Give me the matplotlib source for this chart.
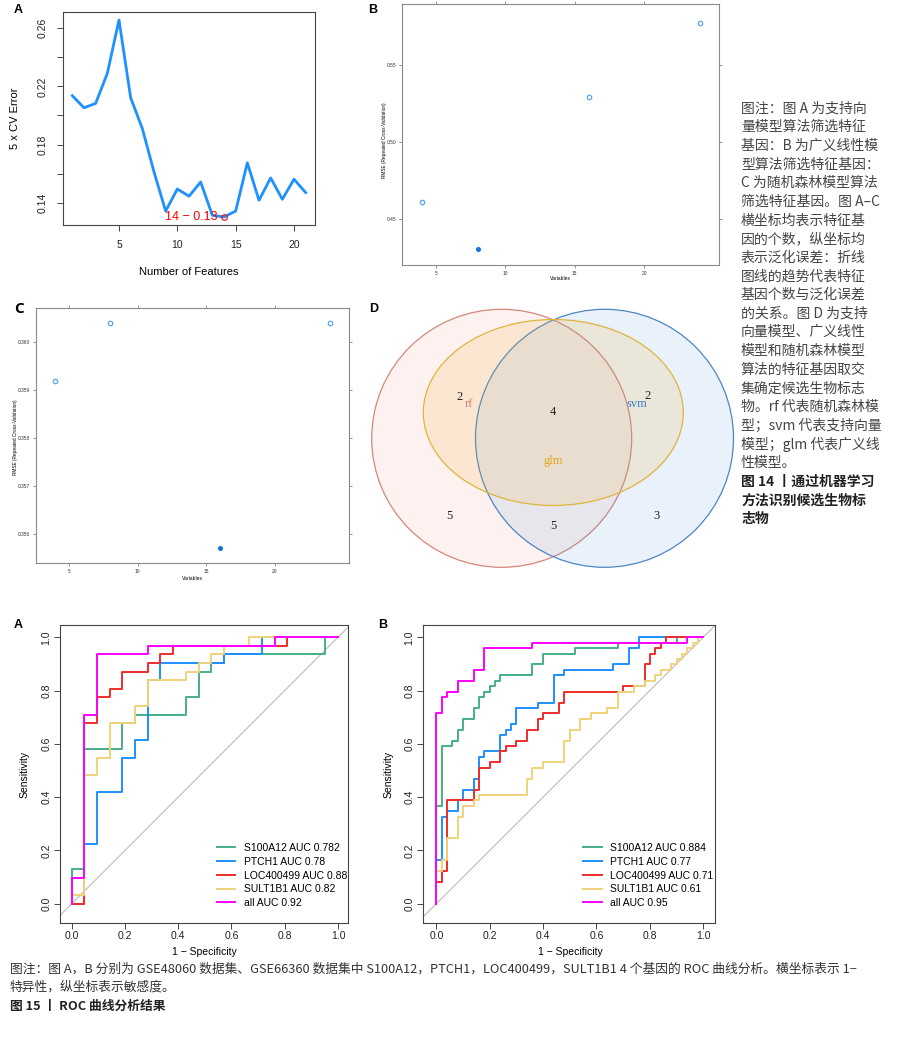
import numpy as np
import matplotlib.pyplot as plt
from matplotlib.patches import Ellipse
from matplotlib.colors import to_rgba

plt.rcParams['font.family'] = ['Liberation Sans', 'DejaVu Sans']
CJK = ['Noto Sans CJK SC', 'DejaVu Sans']

W, H = 905, 1037

# panel A: cross-validation error vs number of features (svm)
n_feat = list(range(1, 22))
cv_err = [0.2136, 0.2053, 0.2083, 0.2290, 0.2657, 0.2122, 0.1910, 0.1611,
          0.1342, 0.1494, 0.1444, 0.1542, 0.1313, 0.1301, 0.1342, 0.1674,
          0.1416, 0.1570, 0.1423, 0.1561, 0.1469]

# panels B and C: RMSE vs number of variables (glm, rf)
n_vars = [4, 8, 16, 24]
rmse_glm = [0.4613, 0.4303, 0.5293, 0.5775]
rmse_rf = [0.3592, 0.3604, 0.3557, 0.3604]

# panel D: venn counts
venn_sets = ['rf', 'svm', 'glm']
venn_counts = {'rf': 5, 'svm': 3, 'rf_glm': 2, 'svm_glm': 2,
               'all': 4, 'rf_svm': 5}

# ROC curves, steps given as (false positive count, true positive count)
roc_genes = ['S100A12', 'PTCH1', 'LOC400499', 'SULT1B1', 'all']
roc_colors = ['#45B085', '#1E90FF', '#EE2C2C', '#F0D27A', '#FF00FF']

auc_a = [0.782, 0.78, 0.88, 0.82, 0.92]
n_ctrl_a, n_case_a = 21, 31
fp_a = [[0, 0, 1, 4, 5, 9, 10, 11, 12, 20, 21],
        [0, 1, 2, 4, 5, 6, 7, 12, 15, 21],
        [0, 1, 2, 3, 4, 6, 7, 8, 17, 21],
        [0, 0, 1, 2, 3, 5, 6, 9, 10, 11, 12, 14, 21],
        [0, 0, 1, 2, 6, 16, 21]]
tp_a = [[0, 4, 18, 21, 22, 24, 27, 28, 29, 31, 31],
        [0, 7, 13, 17, 19, 26, 28, 29, 31, 31],
        [0, 21, 24, 25, 27, 28, 29, 30, 31, 31],
        [0, 1, 15, 17, 21, 23, 26, 27, 28, 29, 30, 31, 31],
        [0, 3, 22, 29, 30, 31, 31]]

auc_b = [0.884, 0.77, 0.71, 0.61, 0.95]
n_ctrl_b, n_case_b = 50, 49
fp_b = [[0, 0, 1, 3, 4, 5, 7, 8, 9, 10, 11, 12, 18, 20, 26, 34, 45, 50],
        [0, 0, 1, 2, 4, 5, 7, 8, 9, 12, 13, 14, 15, 19, 22, 24, 33, 36, 38, 50],
        [0, 0, 1, 2, 7, 8, 10, 12, 13, 15, 17, 19, 20, 23, 24, 35, 39, 40,
         41, 42, 43, 50],
        [0, 0, 1, 2, 4, 5, 7, 8, 17, 18, 20, 24, 25, 27, 29, 32, 34, 37, 39,
         41, 42, 44, 45, 46, 47, 48, 49, 50],
        [0, 0, 1, 2, 4, 7, 9, 18, 47, 50]]
tp_b = [[0, 18, 29, 30, 32, 34, 36, 38, 39, 40, 41, 42, 44, 46, 47, 48, 49, 49],
        [0, 8, 16, 17, 19, 21, 23, 27, 28, 31, 32, 33, 36, 37, 42, 43, 44, 47, 49, 49],
        [0, 4, 6, 19, 21, 25, 26, 28, 29, 30, 32, 34, 35, 37, 39, 40, 44, 46,
         47, 48, 49, 49],
        [0, 6, 8, 12, 16, 18, 19, 20, 23, 25, 26, 30, 32, 34, 35, 36, 39, 40,
         41, 42, 43, 44, 45, 46, 47, 48, 49, 49],
        [0, 35, 38, 39, 41, 43, 47, 48, 49, 49]]

note14 = ['图注：图 A 为支持向', '量模型算法筛选特征', '基因：B 为广义线性模',
          '型算法筛选特征基因：', 'C 为随机森林模型算法', '筛选特征基因。图 A–C',
          '横坐标均表示特征基', '因的个数，纵坐标均', '表示泛化误差：折线',
          '图线的趋势代表特征', '基因个数与泛化误差', '的关系。图 D 为支持',
          '向量模型、广义线性', '模型和随机森林模型', '算法的特征基因取交',
          '集确定候选生物标志', '物。rf 代表随机森林模', '型；svm 代表支持向量',
          '模型；glm 代表广义线', '性模型。']
title14 = ['图 14 丨通过机器学习', '方法识别候选生物标', '志物']
note15 = ['图注：图 A，B 分别为 GSE48060 数据集、GSE66360 数据集中 S100A12，PTCH1，'
          'LOC400499，SULT1B1 4 个基因的 ROC 曲线分析。横坐标表示 1−',
          '特异性，纵坐标表示敏感度。']
title15 = '图 15 丨 ROC 曲线分析结果'


fig = plt.figure(figsize=(W / 100, H / 100), dpi=100)


def px_axes(x0, y0, x1, y1):
    return fig.add_axes([x0 / W, 1 - y1 / H, (x1 - x0) / W, (y1 - y0) / H])


def ftxt(x, y, s, **kw):
    kw.setdefault('ha', 'center')
    kw.setdefault('va', 'center')
    return fig.text(x / W, 1 - y / H, s, **kw)


def r_style(ax, size=7.5, pad=7):
    for sp in ax.spines.values():
        sp.set_color('#444444')
        sp.set_linewidth(0.8)
    ax.tick_params(direction='out', length=4, width=0.7, color='#444444',
                   labelsize=size, labelcolor='#222222', pad=pad)
    plt.setp(ax.get_yticklabels(), rotation=90, va='center')


# ---------------- panel A
ax = px_axes(63, 12, 315, 225)
ax.plot(n_feat, cv_err, color='#1E90FF', lw=2)
best = int(np.argmin(cv_err))
ax.plot(n_feat[best], cv_err[best], 'o', mfc='none', mec='red', ms=4, mew=0.8)
ax.annotate('%d − %.2f' % (n_feat[best], cv_err[best]), (n_feat[best], cv_err[best]),
            xytext=(-5, 0), textcoords='offset points', ha='right', va='center',
            color='red', fontsize=9)
ax.set_xlim(0.2, 21.8)
ax.set_ylim(0.1246, 0.2712)
ax.set_xticks([5, 10, 15, 20])
ax.set_yticks(np.arange(0.14, 0.27, 0.02))
ax.set_yticklabels(['0.14', '', '0.18', '', '0.22', '', '0.26'])
r_style(ax, 7.5, 7)
ftxt(15, 118, '5 x CV Error', rotation=90, fontsize=8)
ftxt(189, 272, 'Number of Features', fontsize=8)
ftxt(18, 10, 'A', fontsize=9, fontweight='bold')


# ---------------- panels B and C
def rfe_panel(box, yv, xlim, ylim, yticks, fmt):
    ax = px_axes(*box)
    best = int(np.argmin(yv))
    for i, (xv, v) in enumerate(zip(n_vars, yv)):
        if i == best:
            ax.plot(xv, v, 'o', color='#1570E0', ms=2.6)
        else:
            ax.plot(xv, v, 'o', mfc='none', mec='#5AA5E6', mew=0.9, ms=3.2)
    ax.set_xlim(*xlim)
    ax.set_ylim(*ylim)
    ax.set_xticks([5, 10, 15, 20])
    ax.set_yticks(yticks)
    ax.set_yticklabels([fmt % t for t in yticks])
    for sp in ax.spines.values():
        sp.set_color('#8a8a8a')
        sp.set_linewidth(0.8)
    ax.tick_params(direction='out', length=2.5, width=0.5, color='#666666',
                   top=True, right=True, labelsize=3.5, labelcolor='#333333', pad=1.5)
    return ax


rfe_panel((402, 4, 719, 265), rmse_glm, (2.55, 25.4), (0.42, 0.5899),
          [0.45, 0.50, 0.55], '%.2f')
ftxt(560, 279, 'Variables', fontsize=3.6)
ftxt(384, 140, 'RMSE (Repeated Cross-Validation)', rotation=90, fontsize=3.4)
ftxt(373, 10, 'B', fontsize=9, fontweight='bold')

rfe_panel((36, 308, 349, 563), rmse_rf, (2.6, 25.4), (0.35539, 0.36072),
          [0.356, 0.357, 0.358, 0.359, 0.360], '%.3f')
ftxt(192, 578, 'Variables', fontsize=3.6)
ftxt(15, 437, 'RMSE (Repeated Cross-Validation)', rotation=90, fontsize=3.4)
ftxt(19, 309, 'C', fontsize=11, fontweight='bold', family='Open Sans')

# ---------------- panel D venn
axv = px_axes(360, 300, 740, 580)
axv.set_xlim(360, 740)
axv.set_ylim(580, 300)
axv.axis('off')
venn_shapes = {'rf': ((501.7, 438.3), 260, 258, '#EE8470', '#D4877A'),
               'svm': ((604.5, 438.3), 258, 258, '#4A90D9', '#4D86C4'),
               'glm': ((553.3, 412.5), 260, 186, '#F2B233', '#E0B43A')}
venn_alpha = {'rf': 0.1, 'svm': 0.12, 'glm': 0.16}
for name in venn_sets:
    c, w, h, fc, ec = venn_shapes[name]
    axv.add_patch(Ellipse(c, w, h, facecolor=to_rgba(fc, venn_alpha[name]),
                          edgecolor=ec, lw=0.9, clip_on=False))
set_txt = {'rf': ((469, 404), '#E07B6A'), 'svm': ((637, 404), '#3A7BC8'),
           'glm': ((553, 461), '#E3A51C')}
for name in venn_sets:
    (x, y), c = set_txt[name]
    axv.text(x, y, name, color=c, fontsize=9, family='Liberation Serif',
             ha='center', va='center')
count_pos = {'rf': (449, 516), 'svm': (657, 516), 'rf_glm': (460, 397),
             'svm_glm': (648, 396), 'all': (553, 412), 'rf_svm': (553, 526)}
for key, n in venn_counts.items():
    x, y = count_pos[key]
    axv.text(x, y, str(n), color='#222222', fontsize=9, family='Liberation Serif',
             ha='center', va='center')
ftxt(374, 309, 'D', fontsize=9, fontweight='bold')

# ---------------- right caption (figure 14)
for i, line in enumerate(note14):
    ftxt(741, 108.5 + i * 18.65, line, ha='left', family=CJK, fontsize=10,
         color='#444444')
for i, line in enumerate(title14):
    ftxt(741, 108.5 + (len(note14) + i) * 18.65, line, ha='left', family=CJK,
         fontsize=10, color='#222222', fontweight='bold')


# ---------------- ROC panels
def roc_panel(box, xlim, fps, tps, n_ctrl, n_case, aucs, leg_x):
    ax = px_axes(*box)
    ax.plot([-0.2, 1.2], [-0.2, 1.2], color='#BBBBBB', lw=0.8, zorder=1)
    for g, c, fp, tp, a in zip(roc_genes, roc_colors, fps, tps, aucs):
        ax.step(np.array(fp) / n_ctrl, np.array(tp) / n_case, where='post',
                color=c, lw=1.4, label='%s AUC %s' % (g, a))
    ax.set_xlim(*xlim)
    ax.set_ylim(-0.0725, 1.046)
    ticks = np.arange(0, 1.01, 0.2)
    ax.set_xticks(ticks)
    ax.set_yticks(ticks)
    ax.set_xticklabels(['%.1f' % t for t in ticks])
    ax.set_yticklabels(['%.1f' % t for t in ticks])
    r_style(ax, 7.5, 2)
    ax.legend(loc='lower left', bbox_to_anchor=(leg_x, 0.05), frameon=False,
              fontsize=7.5, handlelength=1.8, handletextpad=0.8,
              labelspacing=0.36, borderpad=0, borderaxespad=0)
    return ax


roc_panel((60, 625, 348, 923), (-0.044, 1.0375), fp_a, tp_a, n_ctrl_a, n_case_a,
          auc_a, 0.5435)
ftxt(25, 774, 'Sensitivity', rotation=90, fontsize=7.5)
ftxt(204, 952, '1 − Specificity', fontsize=7.5)
ftxt(18, 625, 'A', fontsize=9, fontweight='bold')

roc_panel((423, 625, 715, 923), (-0.05, 1.044), fp_b, tp_b, n_ctrl_b, n_case_b,
          auc_b, 0.5475)
ftxt(389, 774, 'Sensitivity', rotation=90, fontsize=7.5)
ftxt(570, 952, '1 − Specificity', fontsize=7.5)
ftxt(383, 625, 'B', fontsize=9, fontweight='bold')

# ---------------- bottom caption (figure 15)
for i, line in enumerate(note15):
    ftxt(10, 969 + i * 18.5, line, ha='left', family=CJK, fontsize=9.2,
         color='#333333')
ftxt(10, 1006, title15, ha='left', family=CJK, fontsize=9.2, color='#222222',
     fontweight='bold')

fig.savefig('out.png', dpi=100)
